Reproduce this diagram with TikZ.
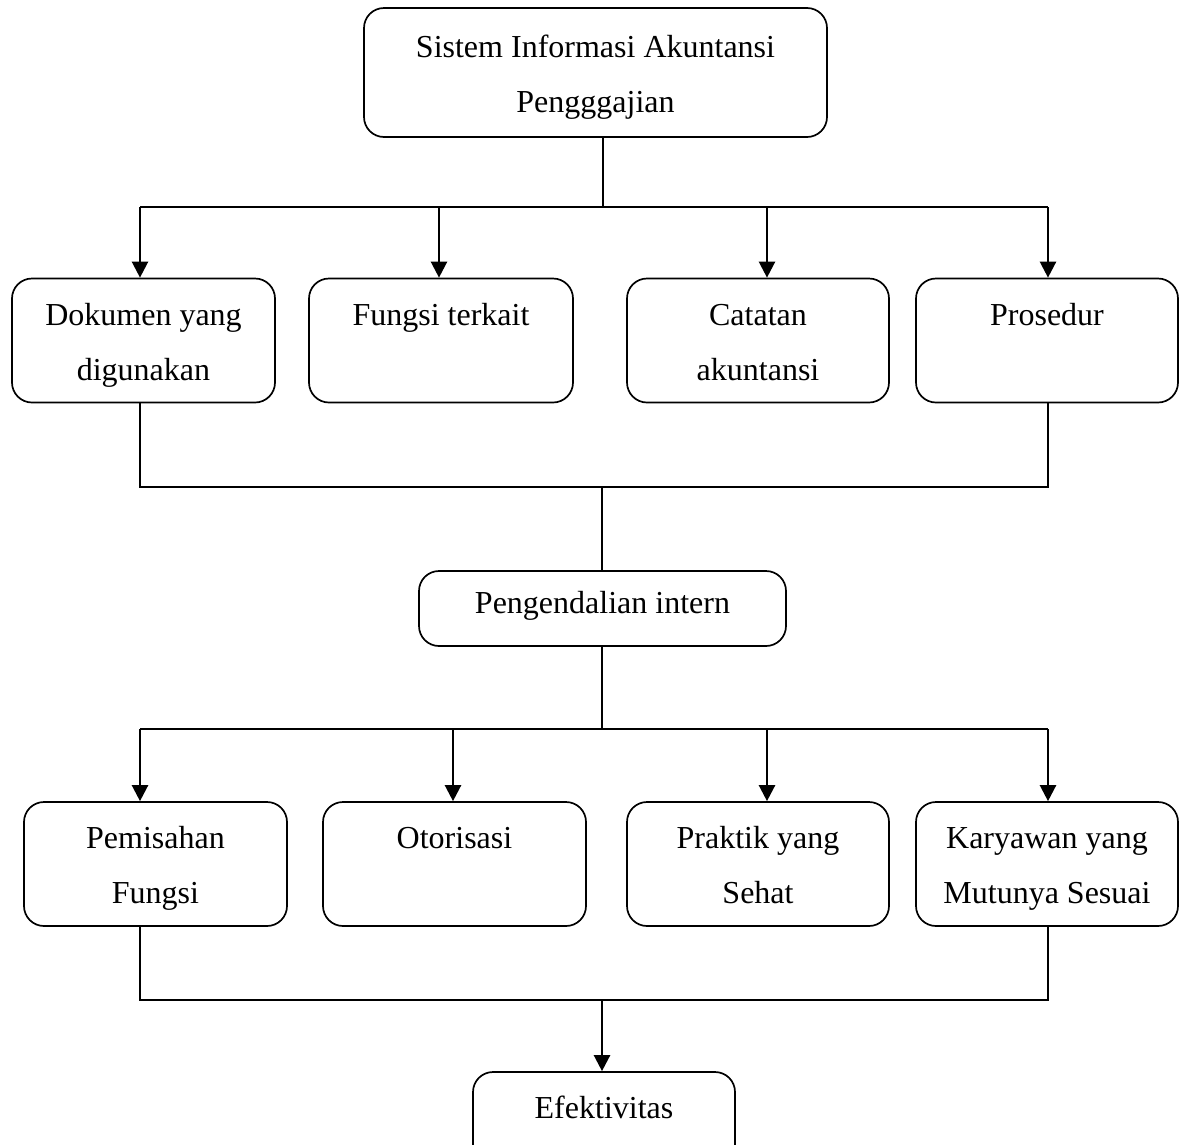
\documentclass[tikz,border=0pt]{standalone}
\usepackage{fontspec}
\setmainfont{Liberation Serif}
\usetikzlibrary{arrows.meta}
% uniform line strut so every box sets its text on the same baselines
\newcommand\lnstrut{\rule[-14pt]{0pt}{52pt}}
\begin{document}
\begin{tikzpicture}[x=1pt,y=-1pt,
  box/.style={draw, line width=1.7pt, rounded corners=20pt, minimum height=124pt,
    align=center, inner sep=0pt, font=\fontsize{32}{55}\selectfont},
  link/.style={line width=1.7pt, line join=miter},
  arr/.style={line width=2.4pt, -{Triangle[width=16pt,length=16pt]}}]
\useasboundingbox (0,0) rectangle (1188,1144);

% top level
\node[box, minimum width=463pt, minimum height=129pt] (sia) at (595.5,72.5)
  {\lnstrut Sistem Informasi Akuntansi\\\lnstrut Pengggajian};

% first row
\node[box, minimum width=263pt] (dok) at (143.5,340.5) {\lnstrut Dokumen yang\\\lnstrut digunakan};
\node[box, minimum width=264pt] (fun) at (441,340.5) {\lnstrut Fungsi terkait\\\lnstrut};
\node[box, minimum width=262pt] (cat) at (758,340.5) {\lnstrut Catatan\\\lnstrut akuntansi};
\node[box, minimum width=262pt] (pro) at (1047,340.5) {\lnstrut Prosedur\\\lnstrut};

% middle
\node[box, minimum width=367pt, minimum height=75pt, text height=20pt, text depth=10pt]
  (pi) at (602.5,608.5) {Pengendalian intern};

% second row
\node[box, minimum width=263pt] (pem) at (155.5,864) {\lnstrut Pemisahan\\\lnstrut Fungsi};
\node[box, minimum width=263pt] (oto) at (454.5,864) {\lnstrut Otorisasi\\\lnstrut};
\node[box, minimum width=262pt] (pra) at (758,864) {\lnstrut Praktik yang\\\lnstrut Sehat};
\node[box, minimum width=262pt] (kar) at (1047,864) {\lnstrut Karyawan yang\\\lnstrut Mutunya Sesuai};

% bottom
\node[box, minimum width=262pt] (efe) at (604,1134) {\lnstrut Efektivitas\\\lnstrut};

% branch points
\coordinate (t0) at (603,207);
\coordinate (t1) at (140,207);
\coordinate (t2) at (439,207);
\coordinate (t3) at (767,207);
\coordinate (t4) at (1048,207);
\coordinate (m1) at (140,487);
\coordinate (m0) at (602,487);
\coordinate (m4) at (1048,487);
\coordinate (u0) at (602,729);
\coordinate (u1) at (140,729);
\coordinate (u2) at (453,729);
\coordinate (u3) at (767,729);
\coordinate (u4) at (1048,729);
\coordinate (b1) at (140,1000);
\coordinate (b0) at (602,1000);
\coordinate (b4) at (1048,1000);

% top distribution
\draw[link] (sia.south -| t0) -- (t0);
\draw[link] (t1) -- (t4);
\draw[arr] (t1) -- (t1 |- dok.north);
\draw[arr] (t2) -- (t2 |- fun.north);
\draw[arr] (t3) -- (t3 |- cat.north);
\draw[arr] (t4) -- (t4 |- pro.north);

% first row collected
\draw[link] (dok.south -| m1) -- (m1) -- (m4) -- (pro.south -| m4);
\draw[link] (m0) -- (pi.north -| m0);

% second distribution
\draw[link] (pi.south -| u0) -- (u0);
\draw[link] (u1) -- (u4);
\draw[arr] (u1) -- (u1 |- pem.north);
\draw[arr] (u2) -- (u2 |- oto.north);
\draw[arr] (u3) -- (u3 |- pra.north);
\draw[arr] (u4) -- (u4 |- kar.north);

% second row collected
\draw[link] (pem.south -| b1) -- (b1) -- (b4) -- (kar.south -| b4);
\draw[arr] (b0) -- (efe.north -| b0);
\end{tikzpicture}
\end{document}
